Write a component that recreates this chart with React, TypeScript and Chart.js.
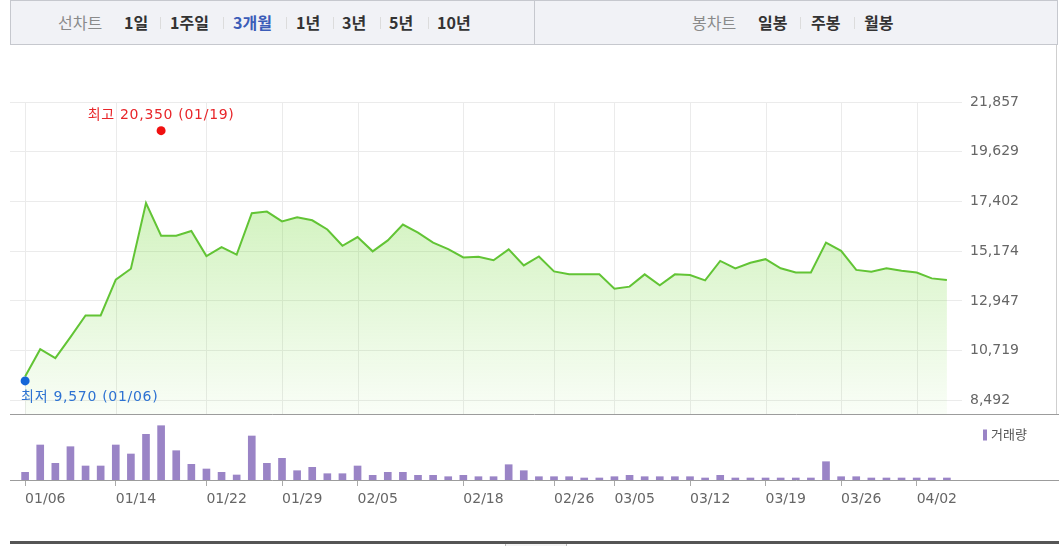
import React, { useEffect, useRef } from 'react';
import { Chart, registerables } from 'chart.js';

Chart.register(...registerables);

// ---------- data ----------
const DATES = [
  '01/06', '01/07', '01/08', '01/11', '01/12', '01/13', '01/14', '01/15', '01/18', '01/19',
  '01/20', '01/21', '01/22', '01/25', '01/26', '01/27', '01/28', '01/29', '02/01', '02/02',
  '02/03', '02/04', '02/05', '02/08', '02/09', '02/10', '02/15', '02/16', '02/17', '02/18',
  '02/19', '02/22', '02/23', '02/24', '02/25', '02/26', '03/02', '03/03', '03/04', '03/05',
  '03/08', '03/09', '03/10', '03/11', '03/12', '03/15', '03/16', '03/17', '03/18', '03/19',
  '03/22', '03/23', '03/24', '03/25', '03/26', '03/29', '03/30', '03/31', '04/01', '04/02',
  '04/05', '04/06',
];

const PRICES = [
  9570, 10790, 10390, 11330, 12300, 12300, 13900, 14390, 17330, 15870,
  15870, 16080, 14960, 15360, 15020, 16880, 16950, 16510, 16700, 16560,
  16150, 15420, 15810, 15170, 15660, 16370, 16010, 15560, 15270, 14900,
  14930, 14770, 15260, 14540, 14940, 14270, 14140, 14140, 14140, 13500,
  13590, 14140, 13650, 14140, 14110, 13870, 14740, 14410, 14660, 14820,
  14410, 14220, 14220, 15560, 15190, 14340, 14260, 14410, 14300, 14220,
  13960, 13890,
];

const VOLUMES = [
  770, 3500, 1670, 3330, 1400, 1400, 3500, 2600, 4570, 5430,
  2930, 1570, 1100, 770, 500, 4400, 1670, 2170, 930, 1270,
  630, 630, 1400, 470, 770, 770, 470, 470, 330, 470,
  330, 330, 1530, 930, 330, 330, 330, 200, 200, 330,
  470, 330, 330, 330, 330, 200, 470, 200, 200, 200,
  200, 200, 200, 1830, 330, 330, 200, 200, 200, 200,
  200, 200,
];

const TICK_DATES = ['01/06', '01/14', '01/22', '01/29', '02/05', '02/18', '02/26', '03/05', '03/12', '03/19', '03/26', '04/02'];
const PRICE_TICKS = [8492, 10719, 12947, 15174, 17402, 19629, 21857];

const HIGH_DATE = '01/19';
const HIGH_VALUE = 20350;
const LOW_DATE = '01/06';
const LOW_VALUE = 9570;

const LINE_TABS = ['1일', '1주일', '3개월', '1년', '3년', '5년', '10년'];
const CANDLE_TABS = ['일봉', '주봉', '월봉'];
const VOLUME_LABEL = '거래량';

// ---------- axis settings ----------
const PRICE_AXIS_MAX = 21857;
const PRICE_AXIS_MIN = 4932;
const PRICE_FLOOR = 7887; // bottom of the price panel
const VOLUME_AXIS_MAX = 37800;

// ---------- layout (style only) ----------
const LINE_TAB_LEFT = [124, 170, 233, 296, 342, 389, 437];
const LINE_SEP_LEFT = [160, 223, 286, 333, 380, 428];
const CANDLE_TAB_LEFT = [758, 811, 864];
const CANDLE_SEP_LEFT = [800, 854];

const TICK_FONT = '"DejaVu Sans", "Noto Sans CJK KR", sans-serif';

const fmt = (v: number) => v.toLocaleString('en-US');

const panelPlugin = {
  id: 'panels',
  beforeDatasetsDraw(chart: any) {
    const { ctx, scales } = chart;
    const xs = scales.x;
    const ys = scales.y;
    const top = ys.getPixelForValue(PRICE_AXIS_MAX);
    const floor = ys.getPixelForValue(PRICE_FLOOR);
    ctx.save();
    ctx.strokeStyle = '#ebebeb';
    ctx.lineWidth = 1;
    xs.ticks.forEach((t: any) => {
      const px = Math.round(xs.getPixelForValue(t.value)) + 0.5;
      ctx.beginPath();
      ctx.moveTo(px, top);
      ctx.lineTo(px, floor);
      ctx.stroke();
    });
    ctx.restore();
  },
  afterDatasetsDraw(chart: any) {
    const { ctx, scales, chartArea, width } = chart;
    const xs = scales.x;
    const ys = scales.y;
    const floor = Math.round(ys.getPixelForValue(PRICE_FLOOR)) + 0.5;
    const base = Math.round(chartArea.bottom) + 0.5;
    ctx.save();
    ctx.strokeStyle = '#9c9c9c';
    ctx.lineWidth = 1;
    ctx.beginPath();
    ctx.moveTo(chartArea.left, floor);
    ctx.lineTo(width, floor);
    ctx.moveTo(chartArea.left, base);
    ctx.lineTo(width, base);
    ctx.stroke();

    // high marker
    const hx = xs.getPixelForValue(DATES.indexOf(HIGH_DATE));
    const hy = ys.getPixelForValue(HIGH_VALUE) - 5;
    ctx.fillStyle = '#f01010';
    ctx.beginPath();
    ctx.arc(hx, hy, 4.5, 0, Math.PI * 2);
    ctx.fill();
    ctx.font = '14px ' + TICK_FONT;
    (ctx as any).letterSpacing = '0.7px';
    ctx.textAlign = 'center';
    ctx.textBaseline = 'middle';
    ctx.fillStyle = '#e8262a';
    ctx.fillText(`최고 ${fmt(HIGH_VALUE)} (${HIGH_DATE})`, hx, hy - 15);

    // low marker
    const lx = xs.getPixelForValue(DATES.indexOf(LOW_DATE));
    const ly = ys.getPixelForValue(LOW_VALUE) + 4.5;
    ctx.fillStyle = '#1566d8';
    ctx.beginPath();
    ctx.arc(lx, ly, 4.5, 0, Math.PI * 2);
    ctx.fill();
    ctx.textAlign = 'left';
    ctx.fillStyle = '#2d72d2';
    ctx.fillText(`최저 ${fmt(LOW_VALUE)} (${LOW_DATE})`, lx - 4, ly + 16.5);

    // volume legend
    (ctx as any).letterSpacing = '0px';
    const lgx = chartArea.right + 21;
    const lgy = floor + 20;
    ctx.fillStyle = '#9a84c6';
    ctx.fillRect(lgx, lgy - 5, 4, 11);
    ctx.font = '13px "Noto Sans CJK KR", sans-serif';
    ctx.fillStyle = '#555';
    ctx.textAlign = 'left';
    ctx.fillText(VOLUME_LABEL, lgx + 8, lgy);
    ctx.restore();
  },
};

function StockChart() {
  const ref = useRef<HTMLCanvasElement | null>(null);

  useEffect(() => {
    if (!ref.current) return;
    const tickIdx = TICK_DATES.map((d) => DATES.indexOf(d));
    const chart = new Chart(ref.current, {
      type: 'bar',
      data: {
        datasets: [
          {
            type: 'line',
            label: '종가',
            data: PRICES.map((v, i) => ({ x: i, y: v })),
            xAxisID: 'x',
            yAxisID: 'y',
            borderColor: '#62c435',
            borderWidth: 2,
            pointRadius: 0,
            tension: 0,
            fill: { value: PRICE_FLOOR },
            backgroundColor: (c: any) => {
              const ch = c.chart;
              if (!ch.chartArea) return 'rgba(110,215,50,0.2)';
              const ys = ch.scales.y;
              const g = ch.ctx.createLinearGradient(0, ys.getPixelForValue(PRICE_AXIS_MAX), 0, ys.getPixelForValue(PRICE_FLOOR));
              g.addColorStop(0, 'rgba(110,215,50,0.44)');
              g.addColorStop(1, 'rgba(110,215,50,0.04)');
              return g;
            },
            order: 1,
          } as any,
          {
            type: 'bar',
            label: VOLUME_LABEL,
            data: VOLUMES.map((v, i) => ({ x: i, y: v })),
            xAxisID: 'x',
            yAxisID: 'yv',
            backgroundColor: '#9a84c6',
            barThickness: 7,
            order: 2,
          } as any,
        ],
      },
      options: {
        animation: false,
        responsive: false,
        devicePixelRatio: 1,
        events: [],
        layout: { padding: { left: 10, top: 56, right: 0, bottom: 0 } },
        plugins: { legend: { display: false }, tooltip: { enabled: false } },
        scales: {
          x: {
            type: 'linear',
            min: -1,
            max: 62,
            offset: false,
            afterBuildTicks: (s: any) => {
              s.ticks = tickIdx.map((v) => ({ value: v }));
            },
            afterFit: (s: any) => {
              s.height = 66;
            },
            grid: { drawOnChartArea: false, drawTicks: true, tickLength: 6, color: '#aaaaaa', offset: false },
            border: { display: false },
            ticks: {
              autoSkip: false,
              maxRotation: 0,
              align: 'start',
              padding: 5,
              color: '#666',
              font: { family: TICK_FONT, size: 14 },
              callback: (v: any) => DATES[v as number] ?? '',
            },
          },
          y: {
            type: 'linear',
            position: 'right',
            min: PRICE_AXIS_MIN,
            max: PRICE_AXIS_MAX,
            afterBuildTicks: (s: any) => {
              s.ticks = PRICE_TICKS.map((v) => ({ value: v }));
            },
            afterFit: (s: any) => {
              s.width = 97;
            },
            grid: { color: '#ebebeb', drawTicks: false },
            border: { display: false },
            ticks: {
              padding: 8,
              crossAlign: 'near',
              color: '#666',
              font: { family: TICK_FONT, size: 14 },
              callback: (v: any) => fmt(v as number),
            },
          },
          yv: {
            type: 'linear',
            display: false,
            min: 0,
            max: VOLUME_AXIS_MAX,
          },
        },
      } as any,
      plugins: [panelPlugin],
    });
    return () => chart.destroy();
  }, []);

  return (
    <canvas
      ref={ref}
      width={1059}
      height={500}
      style={{ position: 'absolute', left: 0, top: 46, width: 1059, height: 500 }}
    />
  );
}

const tabText: React.CSSProperties = {
  position: 'absolute',
  top: 0,
  lineHeight: '45px',
  fontSize: 16,
  fontWeight: 700,
  color: '#333',
  whiteSpace: 'nowrap',
};

const sep = (left: number, key: string) => (
  <div key={key} style={{ position: 'absolute', left, top: 17, width: 1, height: 12, background: '#dcdcdc' }} />
);

export default function App() {
  return (
    <div
      style={{
        position: 'fixed',
        left: 0,
        top: 0,
        width: 1059,
        height: 546,
        background: '#fff',
        overflow: 'hidden',
        fontFamily: '"Noto Sans CJK KR", sans-serif',
      }}
    >
      <div
        style={{
          position: 'absolute',
          left: 10,
          top: 0,
          width: 1048,
          height: 45,
          boxSizing: 'border-box',
          border: '1px solid #c6c8ce',
          background: '#f1f2f6',
        }}
      >
        <div style={{ position: 'absolute', left: 0, top: 0, width: '100%', height: '100%', marginLeft: -11, marginTop: -1 }}>
          <span style={{ ...tabText, left: 58, color: '#8a8a8a', fontWeight: 400 }}>선차트</span>
          {LINE_TABS.map((t, i) => (
            <span key={t} style={{ ...tabText, left: LINE_TAB_LEFT[i], color: t === '3개월' ? '#3b5cb8' : '#333' }}>
              {t}
            </span>
          ))}
          {LINE_SEP_LEFT.map((l, i) => sep(l, 'ls' + i))}
          <div style={{ position: 'absolute', left: 534, top: 0, width: 1, height: 45, background: '#c6c8ce' }} />
          <span style={{ ...tabText, left: 692, color: '#8a8a8a', fontWeight: 400 }}>봉차트</span>
          {CANDLE_TABS.map((t, i) => (
            <span key={t} style={{ ...tabText, left: CANDLE_TAB_LEFT[i] }}>
              {t}
            </span>
          ))}
          {CANDLE_SEP_LEFT.map((l, i) => sep(l, 'cs' + i))}
        </div>
      </div>
      <StockChart />
      <div style={{ position: 'absolute', left: 1056, top: 45, width: 1, height: 369, background: '#cfcfcf' }} />
      <div style={{ position: 'absolute', left: 10, top: 541, width: 1049, height: 3, background: '#555' }} />
      <div
        style={{
          position: 'absolute',
          left: 505,
          top: 544,
          width: 60,
          height: 2,
          background: '#f4f4f4',
          borderLeft: '1px solid #bbb',
          borderRight: '1px solid #bbb',
        }}
      />
    </div>
  );
}
